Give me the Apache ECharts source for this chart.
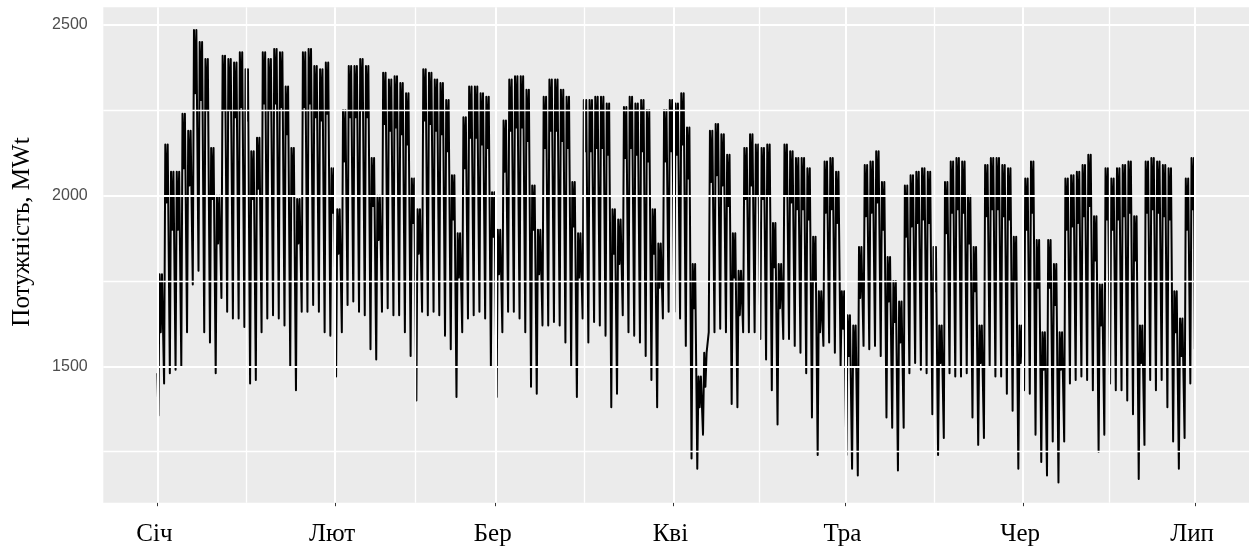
<!DOCTYPE html>
<html><head><meta charset="utf-8">
<script src="https://cdn.jsdelivr.net/npm/echarts@6/dist/echarts.min.js"></script>
<style>html,body{margin:0;padding:0;background:#fff}#c{width:1249px;height:548px}</style>
</head><body><div id="c"></div>
<script>
// Tick labels / categories
const monthLabels = ['Січ','Лют','Бер','Кві','Тра','Чер','Лип'];
const monthStartDays = [0,31,59,90,120,151,181];
const minorDays = [15.5,45,74.5,105,135.5,166];
const yTicks = [1500,2000,2500];
const yMinor = [1250,1750,2250];
const yTitle = 'Потужність, MWt';

// Daily readings (day 0 = 1 Jan), MW
const dayLow = [1356,1450,1480,1490,1500,1600,1740,1780,1600,1570,1480,1700,1660,1640,1640,1615,1450,1460,1600,1640,
1650,1640,1620,1500,1430,1660,1660,1680,1660,1600,1590,1470,1600,1680,1690,1660,1650,1550,1520,1660,
1670,1650,1650,1600,1530,1400,1660,1650,1660,1650,1590,1550,1410,1600,1640,1650,1660,1640,1500,1410,
1600,1660,1660,1640,1600,1440,1420,1620,1620,1630,1620,1570,1500,1410,1640,1570,1630,1620,1590,1380,
1420,1650,1600,1590,1570,1530,1460,1380,1640,1660,1660,1640,1560,1230,1200,1300,1600,1600,1610,1600,
1390,1380,1600,1600,1600,1580,1520,1430,1330,1580,1580,1560,1540,1480,1350,1240,1560,1570,1540,1500,
1240,1200,1180,1560,1550,1560,1530,1350,1320,1195,1320,1480,1510,1490,1480,1360,1240,1290,1480,1470,
1470,1480,1350,1270,1290,1500,1470,1470,1420,1370,1200,1430,1420,1300,1220,1180,1280,1160,1280,1450,
1460,1470,1460,1430,1250,1300,1450,1430,1430,1400,1360,1170,1270,1460,1430,1460,1380,1280,1200,1290,1450];
const dayHigh = [1770,2150,2070,2070,2240,2190,2485,2450,2400,2140,2000,2410,2400,2390,2420,2370,2130,2170,2420,2400,
2430,2420,2320,2140,1990,2420,2430,2380,2370,2390,2080,1960,2250,2380,2380,2400,2380,2110,2000,2360,
2340,2350,2330,2300,2050,1960,2370,2360,2340,2330,2280,2060,1890,2230,2320,2320,2300,2290,2010,1900,
2220,2340,2350,2350,2310,2030,1900,2290,2340,2340,2310,2290,2040,1890,2280,2280,2290,2290,2270,1960,
1930,2260,2290,2270,2280,2250,1960,1860,2250,2280,2270,2300,2200,1800,1470,1540,2190,2210,2180,2120,
1890,1780,2140,2180,2150,2140,2150,1920,1800,2150,2130,2110,2110,2080,1880,1720,2100,2110,2070,1720,
1650,1620,1850,2090,2100,2130,2040,1820,1750,1690,2030,2060,2070,2080,2070,1850,1620,2040,2100,2110,
2100,2000,1850,1620,2090,2110,2110,2090,2080,1880,1620,2050,2100,1870,1600,1870,1800,1600,2050,2060,
2070,2090,2120,1940,1740,2080,2050,2080,2090,2100,1940,1620,2100,2110,2100,2090,2080,1720,1640,2050,2110];
const dayMid = [1600,1980,1900,1900,2080,2030,2300,2280,2250,1990,1860,2250,2250,2230,2260,2220,1990,2020,2270,2250,
2270,2260,2180,2000,1860,2260,2270,2230,2220,2240,1950,1830,2100,2230,2230,2250,2230,1970,1870,2210,
2190,2200,2180,2150,1920,1830,2220,2210,2190,2180,2130,1930,1760,2080,2170,2170,2150,2140,1880,1770,
2070,2190,2200,2200,2160,1900,1770,2140,2190,2190,2160,2140,1910,1760,2130,2130,2140,2140,2120,1830,
1800,2110,2140,2120,2130,2100,1830,1730,2100,2130,2120,2150,2050,1670,1380,1440,2040,2060,2030,1970,
1760,1650,1990,2030,2000,1990,2000,1790,1670,2000,1980,1960,1960,1930,1750,1600,1950,1960,1920,1610,
1530,1500,1700,1940,1950,1980,1900,1690,1630,1570,1880,1910,1920,1930,1920,1720,1510,1890,1950,1960,
1950,1860,1720,1510,1940,1960,1960,1940,1930,1750,1510,1900,1950,1730,1490,1730,1680,1490,1900,1910,
1920,1940,1970,1810,1620,1930,1900,1930,1940,1950,1810,1510,1950,1960,1950,1940,1930,1600,1530,1900,1960];
const firstValue = 1480;   // 1 Jan 00:00
const lastValue = 1550;    // 30 Jun 23:00

// hours of the day at which each daily reading sits
const hourLow = 4, hourPeak1 = 9, hourMid = 14, hourPeak2 = 19, hourLast = 23;

const seriesData = [[0, firstValue]];
for (let d = 0; d < dayLow.length; d++) {
  seriesData.push([d + hourLow/24, dayLow[d]]);
  seriesData.push([d + hourPeak1/24, dayHigh[d]]);
  seriesData.push([d + hourMid/24, dayMid[d]]);
  seriesData.push([d + hourPeak2/24, dayHigh[d]]);
}
seriesData.push([dayLow.length - 1 + hourLast/24, lastValue]);

const gridLines = [];
monthStartDays.forEach(v => gridLines.push({xAxis: v, lineStyle:{width:2}}));
minorDays.forEach(v => gridLines.push({xAxis: v, lineStyle:{width:1.3}}));
yTicks.forEach(v => gridLines.push({yAxis: v, lineStyle:{width:2}}));
yMinor.forEach(v => gridLines.push({yAxis: v, lineStyle:{width:1.3}}));

const chart = echarts.init(document.getElementById('c'), null, {renderer:'canvas'});
chart.setOption({
  animation: false,
  backgroundColor: '#ffffff',
  grid: {left: 103.3, top: 7.3, width: 1151.7, height: 495.4, show: true, backgroundColor: '#EBEBEB', borderWidth: 0},
  xAxis: {
    type: 'value', min: -9.44, max: 190.4,
    axisLine: {show: false}, splitLine: {show: false},
    axisTick: {show: true, length: 3.5, lineStyle: {color: '#333333', width: 1}, customValues: monthStartDays},
    axisLabel: {customValues: monthStartDays,
      formatter: v => monthLabels[monthStartDays.indexOf(Math.round(v))] || '',
      fontFamily: 'Liberation Serif', fontSize: 25, color: '#000000', margin: 19, padding: [0, 6, 0, 0]}
  },
  yAxis: {
    type: 'value', min: 1100.6, max: 2551.8,
    axisLine: {show: false}, splitLine: {show: false},
    axisTick: {show: true, length: 3.5, lineStyle: {color: '#333333', width: 1}, customValues: yTicks},
    axisLabel: {customValues: yTicks, formatter: v => String(v),
      fontFamily: 'Liberation Sans', fontSize: 16, color: '#4D4D4D', margin: 15.6, padding: [5, 0, 0, 0]}
  },
  graphic: [{
    type: 'text', rotation: Math.PI/2, x: 22, y: 232,
    style: {text: yTitle, font: '25px "Liberation Serif"', fill: '#000000', align: 'center', verticalAlign: 'middle'}
  }],
  series: [
    {type: 'line', data: [], z: 1, silent: true,
     markLine: {silent: true, symbol: 'none', label: {show: false}, animation: false,
       lineStyle: {color: '#ffffff', type: 'solid'}, data: gridLines}},
    {type: 'line', data: seriesData, z: 2, silent: true, showSymbol: false, symbol: 'none',
     lineStyle: {color: '#000000', width: 2.0, join: 'round'}, sampling: null}
  ]
});
</script></body></html>
